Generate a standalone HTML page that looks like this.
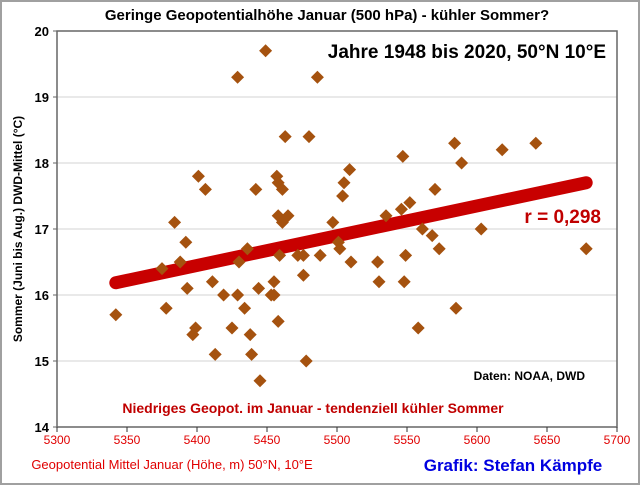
<!DOCTYPE html>
<html><head><meta charset="utf-8"><style>
body{margin:0;background:#fff;font-family:"Liberation Sans",sans-serif}
#wrap{position:relative;width:640px;height:485px;overflow:hidden}
</style></head><body>
<div id="wrap">
<svg id="chart" width="640" height="485" xmlns="http://www.w3.org/2000/svg"></svg>
</div>
<script>
const xVals=[5342,5375,5378,5384,5388,5392,5393,5397,5399,5401,5406,5411,5413,5419,5425,5429,5429,5430,5434,5436,5438,5439,5442,5444,5445,5449,5453,5455,5455,5457,5458,5458,5458,5459,5461,5461,5463,5465,5472,5476,5476,5478,5480,5486,5488,5497,5501,5502,5504,5505,5509,5510,5529,5530,5535,5546,5547,5548,5549,5552,5558,5561,5568,5570,5573,5584,5585,5589,5603,5618,5642,5678];
const yVals=[15.7,16.4,15.8,17.1,16.5,16.8,16.1,15.4,15.5,17.8,17.6,16.2,15.1,16.0,15.5,19.3,16.0,16.5,15.8,16.7,15.4,15.1,17.6,16.1,14.7,19.7,16.0,16.2,16.0,17.8,17.7,17.2,15.6,16.6,17.1,17.6,18.4,17.2,16.6,16.3,16.6,15.0,18.4,19.3,16.6,17.1,16.8,16.7,17.5,17.7,17.9,16.5,16.5,16.2,17.2,17.3,18.1,16.2,16.6,17.4,15.5,17.0,16.9,17.6,16.7,18.3,15.8,18.0,17.0,18.2,18.3,16.7];
const xTicks=[5300,5350,5400,5450,5500,5550,5600,5650,5700];
const yTicks=[14,15,16,17,18,19,20];
const NS="http://www.w3.org/2000/svg";
const svg=document.getElementById('chart');
const L=57,R=617,T=31,B=427,xMin=5300,xMax=5700,yMin=14,yMax=20;
const sx=v=>L+(v-xMin)/(xMax-xMin)*(R-L);
const sy=v=>B-(v-yMin)/(yMax-yMin)*(B-T);
function mk(tag,attrs,parent){const e=document.createElementNS(NS,tag);for(const k in attrs)e.setAttribute(k,attrs[k]);(parent||svg).appendChild(e);return e;}
function txt(x,y,s,attrs){const t=mk('text',Object.assign({x:x,y:y},attrs));t.textContent=s;return t;}
let e;
e=mk('rect',{x:1,y:1,width:638,height:483,fill:'#fff',stroke:'#a0a0a0','stroke-width':2});


yTicks.forEach(v=>{if(v>yMin&&v<yMax){e=mk('line',{x1:L,x2:R,y1:sy(v),y2:sy(v),stroke:'#dcdcdc','stroke-width':1.2});

}});
e=mk('rect',{x:L,y:T,width:R-L,height:B-T,fill:'none',stroke:'#666','stroke-width':1.5});


yTicks.forEach(v=>{e=txt(L-8,sy(v)+5,String(v),{'font-size':13,'font-weight':'bold','text-anchor':'end',fill:'#000'});


mk('line',{x1:L-4,x2:L,y1:sy(v),y2:sy(v),stroke:'#666'});});
xTicks.forEach(v=>{mk('line',{x1:sx(v),x2:sx(v),y1:B,y2:B+5,stroke:'#333'});
e=txt(sx(v),B+17,String(v),{'font-size':12,'text-anchor':'middle',fill:'#e00000'});

});
const n=xVals.length;let mx=0,my=0;for(let i=0;i<n;i++){mx+=xVals[i];my+=yVals[i];}mx/=n;my/=n;
let sxy=0,sxx=0;for(let i=0;i<n;i++){sxy+=(xVals[i]-mx)*(yVals[i]-my);sxx+=(xVals[i]-mx)**2;}
const slope=sxy/sxx,icpt=my-slope*mx;
const x0=Math.min(...xVals),x1=Math.max(...xVals);
e=mk('line',{x1:sx(x0),y1:sy(icpt+slope*x0),x2:sx(x1),y2:sy(icpt+slope*x1),stroke:'#c80000','stroke-width':13,'stroke-linecap':'round'});


for(let i=0;i<n;i++){const cx=sx(xVals[i]),cy=sy(yVals[i]);
e=mk('path',{d:`M${cx} ${cy-6.5}L${cx+6.5} ${cy}L${cx} ${cy+6.5}L${cx-6.5} ${cy}Z`,fill:'#a5520f'});

}
e=txt(327,20,'Geringe Geopotentialhöhe Januar (500 hPa) - kühler Sommer?',{'font-size':15,'font-weight':'bold','text-anchor':'middle'});


e=txt(606,58,'Jahre 1948 bis 2020, 50°N 10°E',{'font-size':19,'font-weight':'bold','text-anchor':'end'});


e=txt(601,223,'r = 0,298',{'font-size':19,'font-weight':'bold','text-anchor':'end',fill:'#c00000'});


e=txt(585,380,'Daten: NOAA, DWD',{'font-size':12,'font-weight':'bold','text-anchor':'end'});


e=txt(313,413,'Niedriges Geopot. im Januar - tendenziell kühler Sommer',{'font-size':14,'font-weight':'bold','text-anchor':'middle',fill:'#c00000'});


e=txt(0,0,'Sommer (Juni bis Aug.) DWD-Mittel (°C)',{'font-size':12,'font-weight':'bold','text-anchor':'middle',transform:'translate(22,229) rotate(-90)'});


e=txt(172,469,'Geopotential Mittel Januar (Höhe, m) 50°N, 10°E',{'font-size':13,'text-anchor':'middle',fill:'#e00000'});


e=txt(513,471,'Grafik: Stefan Kämpfe',{'font-size':17,'font-weight':'bold','text-anchor':'middle',fill:'#0000e0'});


</script>
</body></html>
